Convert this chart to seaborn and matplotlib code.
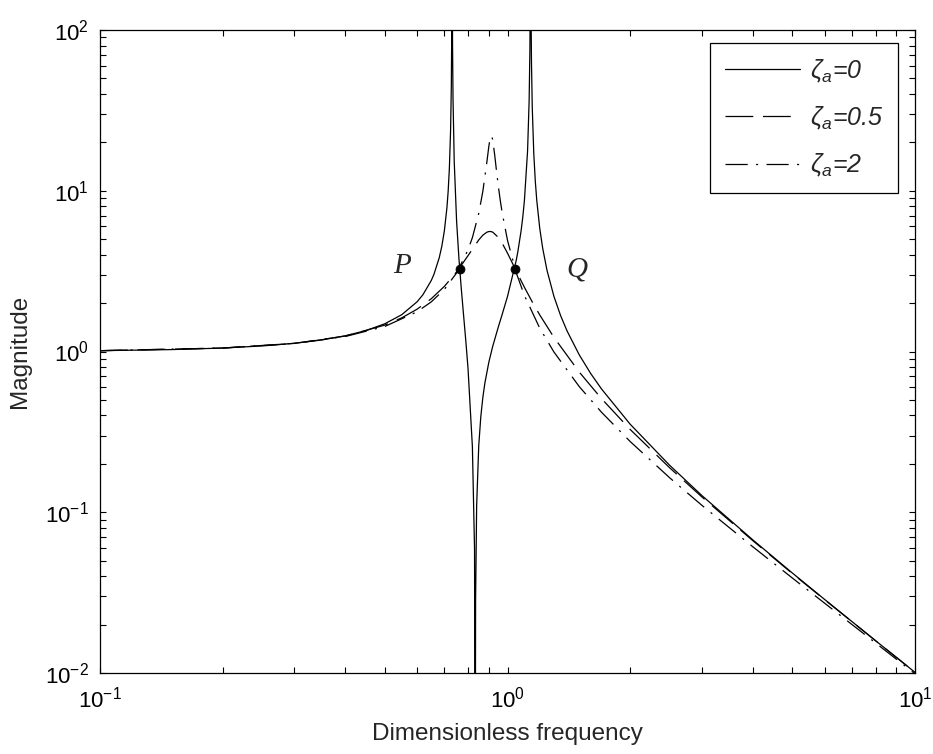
import matplotlib
matplotlib.use('Agg')
import matplotlib.pyplot as plt
import matplotlib.ticker as mticker
import seaborn as sns

# frequency response magnitude (log-log)
freq_0 = [0.1, 0.15, 0.2, 0.25, 0.3, 0.35, 0.4, 0.45, 0.5, 0.55,
          0.6, 0.62, 0.65, 0.66, 0.68, 0.69, 0.7, 0.71, 0.715, 0.72,
          0.725, 0.728, 0.73, 0.731, 0.732, 0.733, 0.735, 0.74, 0.75, 0.76,
          0.77, 0.78, 0.79, 0.8, 0.82, 0.83, 0.8333, 0.835, 0.84, 0.85,
          0.86, 0.87, 0.88, 0.9, 0.92, 0.95, 0.97, 1.0, 1.05, 1.06,
          1.08, 1.09, 1.1, 1.12, 1.13, 1.135, 1.138, 1.14, 1.142, 1.145,
          1.15, 1.16, 1.17, 1.18, 1.2, 1.22, 1.25, 1.3, 1.35, 1.4,
          1.5, 1.6, 1.7, 2, 2.5, 3, 4, 5, 6, 8,
          10]
mag_0 = [1.012, 1.028, 1.051, 1.083, 1.125, 1.180, 1.253, 1.351, 1.488, 1.694,
         2.039, 2.255, 2.765, 3.024, 3.834, 4.524, 5.646, 7.809, 9.877, 13.78,
         23.86, 44.6, 112.3, 491, 200, 82.3, 37.4, 15.26, 6.468, 3.785,
         2.476, 1.694, 1.168, 0.786, 0.256, 0.059, 0.001, 0.0285, 0.110, 0.2595,
         0.394, 0.519, 0.637, 0.859, 1.079, 1.429, 1.697, 2.2, 3.666, 4.166,
         5.654, 6.841, 8.623, 17.63, 36.26, 76.3, 225, 753, 141, 63.7,
         33.29, 17.07, 11.49, 8.671, 5.823, 4.385, 3.2, 2.202, 1.672, 1.343,
         0.953, 0.730, 0.586, 0.353, 0.196, 0.127, 0.0673, 0.0419, 0.0287, 0.0159,
         0.0101]

freq_05 = [0.1, 0.2, 0.3, 0.4, 0.5, 0.55, 0.6, 0.65, 0.7, 0.75,
           0.76, 0.8, 0.85, 0.87, 0.89, 0.9, 0.91, 0.92, 0.95, 0.97,
           1.0, 1.04, 1.07, 1.1, 1.15, 1.2, 1.3, 1.5, 1.7, 2,
           2.5, 3, 4, 5, 6, 8, 10]
mag_05 = [1.012, 1.051, 1.124, 1.248, 1.460, 1.619, 1.834, 2.130, 2.543, 3.129,
          3.273, 3.947, 4.943, 5.294, 5.525, 5.576, 5.577, 5.527, 5.123, 4.725,
          4.091, 3.341, 2.885, 2.512, 2.036, 1.688, 1.224, 0.745, 0.510, 0.3275,
          0.1891, 0.1245, 0.0666, 0.0416, 0.0286, 0.0159, 0.0101]

freq_2 = [0.1, 0.2, 0.3, 0.4, 0.5, 0.6, 0.65, 0.7, 0.75, 0.8,
          0.82, 0.85, 0.87, 0.89, 0.9, 0.905, 0.912, 0.916, 0.92, 0.93,
          0.94, 0.95, 0.96, 0.97, 1.0, 1.05, 1.1, 1.2, 1.3, 1.5,
          1.7, 2, 2.5, 3, 4, 5, 6, 8, 10]
mag_2 = [1.012, 1.051, 1.122, 1.240, 1.432, 1.767, 2.036, 2.435, 3.080, 4.285,
         5.111, 7.228, 9.936, 15.12, 18.94, 20.71, 21.93, 21.62, 20.62, 16.77,
         13.19, 10.56, 8.695, 7.338, 4.915, 3.102, 2.233, 1.396, 0.993, 0.605,
         0.4197, 0.2755, 0.1639, 0.1104, 0.0610, 0.0390, 0.0272, 0.0154, 0.00989]

# fixed points P and Q
pq_x = [0.763, 1.045]
pq_y = [3.28, 3.28]
pq_names = ['P', 'Q']
pq_label_x = [0.551, 1.48]
pq_label_y = [3.40, 3.25]

labels = [r'$\zeta_a$=0', r'$\zeta_a$=0.5', r'$\zeta_a$=2']

sns.set_theme(style='ticks', rc={
    'xtick.direction': 'in', 'ytick.direction': 'in',
    'xtick.top': True, 'ytick.right': True,
    'xtick.major.size': 4.5, 'ytick.major.size': 4.5,
    'xtick.minor.size': 4.5, 'ytick.minor.size': 4.5,
    'xtick.major.width': 0.8, 'ytick.major.width': 0.8,
    'xtick.minor.width': 0.8, 'ytick.minor.width': 0.8,
    'axes.edgecolor': 'black', 'axes.linewidth': 0.9,
    'lines.scale_dashes': False,
})
plt.rcParams['font.family'] = ['Liberation Sans', 'DejaVu Sans']
plt.rcParams['mathtext.fontset'] = 'custom'
plt.rcParams['mathtext.rm'] = 'Liberation Sans'
plt.rcParams['mathtext.it'] = 'Liberation Sans:italic'

fig, ax = plt.subplots(figsize=(9.33, 7.54), dpi=100)
fig.subplots_adjust(left=0.1072, right=0.9807, bottom=0.1074, top=0.9602)
ax.set_xscale('log')
ax.set_yscale('log', nonpositive='clip')

sns.lineplot(x=freq_0, y=mag_0, ax=ax, color='black', lw=0.9, label=labels[0])
sns.lineplot(x=freq_05, y=mag_05, ax=ax, color='black', lw=0.9, label=labels[1])
ax.get_lines()[-1].set_dashes([20, 7])
sns.lineplot(x=freq_2, y=mag_2, ax=ax, color='black', lw=0.9, label=labels[2])
ax.get_lines()[-1].set_dashes([16, 6, 1.5, 6])

sns.scatterplot(x=pq_x, y=pq_y, ax=ax, color='black', s=42, edgecolor='black', zorder=5)
for tx, ty, name in zip(pq_label_x, pq_label_y, pq_names):
    ax.text(tx, ty, name, family='Liberation Serif', style='italic', fontsize=21,
            ha='center', va='center')

ax.set_xlim(0.1, 10)
ax.set_ylim(0.01, 100)
ax.xaxis.set_minor_formatter(mticker.NullFormatter())
ax.yaxis.set_minor_formatter(mticker.NullFormatter())
ax.tick_params(which='both', labelsize=16, colors='black')
ax.tick_params(axis='x', pad=10)
ax.tick_params(axis='y', pad=8)
ax.set_xlabel('Dimensionless frequency', fontsize=17.5, labelpad=7)
ax.set_ylabel('Magnitude', fontsize=17.5, labelpad=10)

leg = ax.legend(loc='upper right', bbox_to_anchor=(0.979, 0.9798), borderaxespad=0,
                frameon=True, fancybox=False, edgecolor='black', framealpha=1,
                prop={'style': 'italic', 'size': 18}, handlelength=3.0,
                handletextpad=0.4, borderpad=0.58, labelspacing=0.8)
leg.get_frame().set_linewidth(0.9)

fig.savefig('out.png', dpi=100)
